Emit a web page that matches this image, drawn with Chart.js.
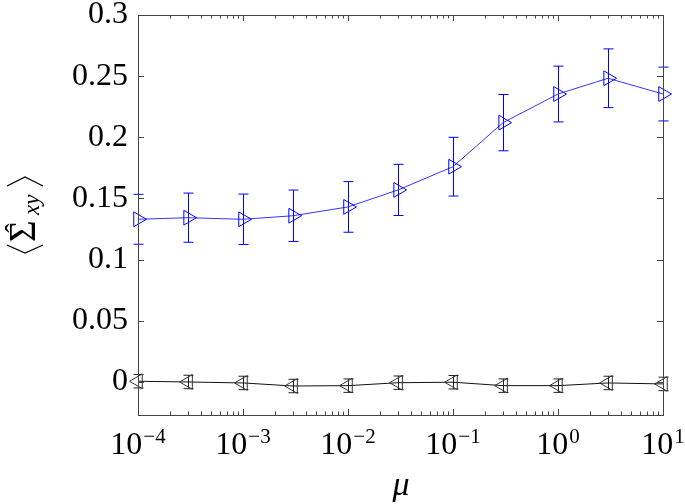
<!DOCTYPE html>
<html>
<head>
<meta charset="utf-8">
<script src="https://cdn.jsdelivr.net/npm/chart.js@4/dist/chart.umd.min.js"></script>
<style>
  body { margin: 0; background: #fff; }
  canvas { display: block; }
</style>
</head>
<body>
<canvas id="sigmaChart" width="685" height="504"></canvas>
<script>
// values
const muValues = [1e-4, 3e-4, 1e-3, 3e-3, 1e-2, 3e-2, 1e-1, 3e-1, 1, 3, 10];
const sigmaBlue = [0.133, 0.1343, 0.133, 0.1359, 0.1431, 0.157, 0.176, 0.212, 0.2354, 0.2483, 0.2354];
const errBlue = [0.0204, 0.0201, 0.0206, 0.021, 0.0207, 0.0209, 0.024, 0.023, 0.0228, 0.024, 0.022];
const sigmaBlack = [0.0006, 0.0, -0.0008, -0.0033, -0.003, -0.0006, -0.0002, -0.003, -0.003, -0.0008, -0.0016];
const errBlack = [0.0055, 0.0055, 0.0055, 0.0055, 0.0055, 0.0055, 0.0055, 0.0055, 0.0055, 0.0055, 0.0055];

const xTickValues = [1e-4, 1e-3, 1e-2, 1e-1, 1, 10];
const xTickExponents = ['\u22124', '\u22123', '\u22122', '\u22121', '0', '1'];
const yTickValues = [0, 0.05, 0.1, 0.15, 0.2, 0.25, 0.3];

const serif = '"Liberation Serif", "DejaVu Serif", serif';

function toPoints(ys, errs) {
    return muValues.map((x, i) => ({ x: x, y: ys[i], err: errs[i] }));
}

// vertical error bars with small caps
const errorBars = {
    id: 'errorBars',
    beforeDatasetsDraw(chart) {
        const ctx = chart.ctx;
        const xs = chart.scales.x, ys = chart.scales.y;
        chart.data.datasets.forEach(ds => {
            ctx.save();
            ctx.strokeStyle = ds.errColor;
            ctx.lineWidth = 1;
            ds.data.forEach(p => {
                const px = Math.round(xs.getPixelForValue(p.x)) + 0.5;
                const top = ys.getPixelForValue(p.y + p.err);
                const bot = ys.getPixelForValue(p.y - p.err);
                ctx.beginPath();
                ctx.moveTo(px, top); ctx.lineTo(px, bot);
                ctx.moveTo(px - 5, top); ctx.lineTo(px + 5, top);
                ctx.moveTo(px - 5, bot); ctx.lineTo(px + 5, bot);
                ctx.stroke();
            });
            ctx.restore();
        });
    }
};

// box, inner ticks, log tick labels and axis titles
const frame = {
    id: 'frame',
    afterDraw(chart) {
        const ctx = chart.ctx;
        const a = chart.chartArea;
        const xs = chart.scales.x, ys = chart.scales.y;
        ctx.save();
        ctx.strokeStyle = '#444';
        ctx.lineWidth = 1;
        ctx.strokeRect(a.left + 0.5, a.top + 0.5, a.right - a.left, a.bottom - a.top);

        ctx.beginPath();
        yTickValues.forEach(v => {
            const py = Math.round(ys.getPixelForValue(v)) + 0.5;
            ctx.moveTo(a.left, py); ctx.lineTo(a.left + 6, py);
            ctx.moveTo(a.right, py); ctx.lineTo(a.right - 6, py);
        });
        xTickValues.forEach(v => {
            const px = Math.round(xs.getPixelForValue(v)) + 0.5;
            ctx.moveTo(px, a.bottom); ctx.lineTo(px, a.bottom - 6);
            ctx.moveTo(px, a.top); ctx.lineTo(px, a.top + 6);
        });
        for (let d = -4; d < 1; d++) {
            for (let k = 2; k < 10; k++) {
                const px = Math.round(xs.getPixelForValue(k * Math.pow(10, d))) + 0.5;
                ctx.moveTo(px, a.bottom); ctx.lineTo(px, a.bottom - 3.5);
                ctx.moveTo(px, a.top); ctx.lineTo(px, a.top + 3.5);
            }
        }
        ctx.stroke();

        // x tick labels 10^n
        ctx.fillStyle = '#000';
        ctx.textBaseline = 'alphabetic';
        ctx.textAlign = 'left';
        xTickValues.forEach((v, i) => {
            const px = xs.getPixelForValue(v);
            ctx.font = '32px ' + serif;
            const wBase = ctx.measureText('10').width;
            ctx.font = '21px ' + serif;
            const wExp = ctx.measureText(xTickExponents[i]).width;
            const start = px - (wBase + wExp + 1) / 2;
            ctx.font = '32px ' + serif;
            ctx.fillText('10', start, 454);
            ctx.font = '21px ' + serif;
            ctx.fillText(xTickExponents[i], start + wBase + 1, 443);
        });

        // x title
        ctx.font = 'italic 34px ' + serif;
        ctx.textAlign = 'center';
        ctx.fillText('\u03bc', 401, 495);

        // y title <Sigma-hat_xy>, rotated
        ctx.translate(0, 215);
        ctx.rotate(-Math.PI / 2);
        ctx.strokeStyle = '#000';
        ctx.lineWidth = 1.3;
        ctx.beginPath();
        ctx.moveTo(-30, 7); ctx.lineTo(-38, 25); ctx.lineTo(-30, 43);
        ctx.moveTo(29, 7); ctx.lineTo(38, 25); ctx.lineTo(29, 43);
        ctx.stroke();
        ctx.textAlign = 'left';
        ctx.font = '37px ' + serif;
        ctx.fillText('\u03a3', -27, 35);
        ctx.font = '28px ' + serif;
        ctx.textAlign = 'center';
        ctx.fillText('\u02c6', -13, 24);
        ctx.textAlign = 'left';
        ctx.font = 'italic 23px ' + serif;
        ctx.fillText('xy', 0, 39);
        ctx.restore();
    }
};

new Chart(document.getElementById('sigmaChart'), {
    type: 'line',
    data: {
        datasets: [{
            label: 'blue',
            data: toPoints(sigmaBlue, errBlue),
            borderColor: '#3535ff',
            borderWidth: 1,
            pointStyle: 'triangle',
            rotation: 90,
            pointRadius: 8.5,
            pointBorderColor: '#0000ff',
            pointBackgroundColor: 'rgba(0,0,0,0)',
            pointBorderWidth: 1,
            errColor: '#0000ff',
            tension: 0,
            clip: false
        }, {
            label: 'black',
            data: toPoints(sigmaBlack, errBlack),
            borderColor: '#111',
            borderWidth: 1,
            pointStyle: 'triangle',
            rotation: -90,
            pointRadius: 8.5,
            pointBorderColor: '#333',
            pointBackgroundColor: 'rgba(0,0,0,0)',
            pointBorderWidth: 1,
            errColor: '#222',
            tension: 0,
            clip: false
        }]
    },
    options: {
        responsive: false,
        animation: false,
        devicePixelRatio: 1,
        layout: { padding: { top: 15, right: 22, left: 0, bottom: 0 } },
        plugins: { legend: { display: false }, tooltip: { enabled: false } },
        scales: {
            x: {
                type: 'logarithmic',
                min: 1e-4,
                max: 10,
                grid: { display: false, drawTicks: false },
                border: { display: false },
                ticks: { display: false },
                afterFit: s => { s.height = 89; s.paddingLeft = 0; s.paddingRight = 0; }
            },
            y: {
                min: -0.027,
                max: 0.3,
                grid: { display: false, drawTicks: false },
                border: { display: false },
                afterBuildTicks: s => { s.ticks = yTickValues.map(v => ({ value: v })); },
                ticks: {
                    color: '#000',
                    padding: 10,
                    font: { family: serif, size: 32 },
                    callback: v => String(Number(v.toFixed(2)))
                },
                afterFit: s => { s.width = 138; s.paddingTop = 0; s.paddingBottom = 0; }
            }
        }
    },
    plugins: [errorBars, frame]
});
</script>
</body>
</html>
